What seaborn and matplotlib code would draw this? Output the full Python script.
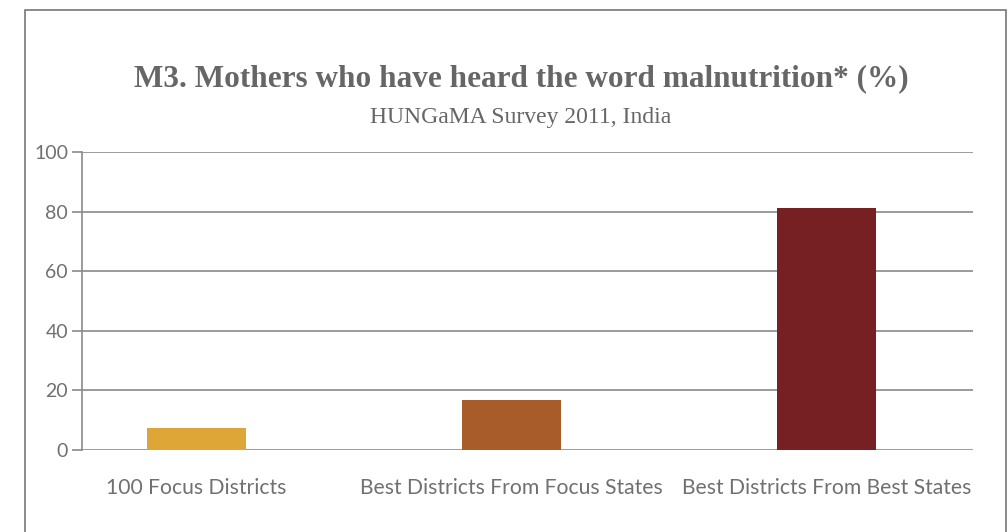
import matplotlib
matplotlib.use("Agg")
import matplotlib.pyplot as plt
import matplotlib.patches as mpatches
import seaborn as sns
import pandas as pd

categories = ["100 Focus Districts", "Best Districts From Focus States", "Best Districts From Best States"]
values = [7.4, 16.8, 81.2]
colors = ["#DDA637", "#A85C29", "#762024"]
yticks = [0, 20, 40, 60, 80, 100]
title = "M3. Mothers who have heard the word malnutrition* (%)"
subtitle = "HUNGaMA Survey 2011, India"

df = pd.DataFrame({"cat": categories, "val": values})

sns.set_theme(style="white")
plt.rcParams["font.family"] = ["Lato", "DejaVu Sans"]

fig = plt.figure(figsize=(10.08, 5.32), dpi=100)
ax = fig.add_axes([82/1008, 1-450/532, (973-82)/1008, (450-152)/532])

sns.barplot(data=df, x="cat", y="val", hue="cat", palette=colors, order=categories,
            hue_order=categories, legend=False, width=0.314, ax=ax, saturation=1,
            linewidth=0, edgecolor="none", zorder=3)

ax.set_xlim(-0.3635, 2.465)
ax.set_ylim(0, 100)
ax.set_yticks(yticks)
ax.set_yticklabels([str(t) for t in yticks], fontsize=14, color="#707070")
ax.yaxis.grid(True, color="#8a8a8a", linewidth=1.2, zorder=0)
ax.set_axisbelow(True)
ax.tick_params(axis="y", which="both", left=True, length=7, width=1.2, color="#8a8a8a", pad=3)
ax.tick_params(axis="x", bottom=False, labelsize=15.2, labelcolor="#707070", pad=14)
ax.set_xlabel("")
ax.set_ylabel("")
for s in ["top", "right", "bottom"]:
    ax.spines[s].set_visible(False)
ax.spines["left"].set_color("#8a8a8a")
ax.spines["left"].set_linewidth(1.2)

fig.text(521/1008, 1-79/532, title, ha="center", va="center", fontsize=22.5,
         fontweight="bold", color="#666666", family=["Liberation Serif", "DejaVu Serif"])
fig.text(521/1008, 1-117/532, subtitle, ha="center", va="center", fontsize=17,
         color="#666666", family=["Liberation Serif", "DejaVu Serif"])

rect = mpatches.Rectangle((25/1008, -0.05), (1006-25)/1008, 1.05 - 10/532, transform=fig.transFigure,
                          fill=False, edgecolor="#777777", linewidth=1.2)
fig.add_artist(rect)

fig.savefig("out.png", dpi=100)
